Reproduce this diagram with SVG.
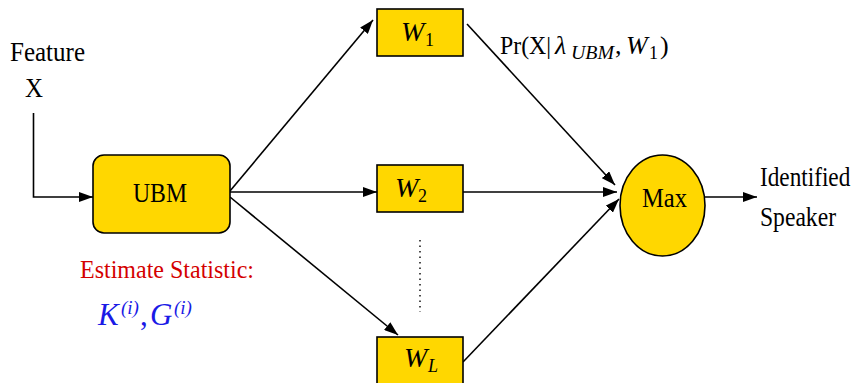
<svg xmlns="http://www.w3.org/2000/svg" width="857" height="383" viewBox="0 0 857 383">
<defs>
<marker id="arr" markerUnits="userSpaceOnUse" markerWidth="14" markerHeight="10" refX="14" refY="5" orient="auto">
<path d="M0,0 L14,5 L0,10 Z" fill="#000"/>
</marker>
<style>
.box{fill:#FFD700;stroke:#000;stroke-width:1.6}
.t{font-family:"Liberation Serif","DejaVu Serif",serif;font-size:28px;fill:#000}
.it{font-style:italic}
.sub{font-size:18px}
.edge{fill:none;stroke:#000;stroke-width:1.6;marker-end:url(#arr)}
</style>
</defs>
<rect width="857" height="383" fill="#fff"/>
<g id="connectors">
<path class="edge" d="M33.5,113 V197 H93"/>
<path class="edge" d="M230,191 L373,20"/>
<path class="edge" d="M230,192 H377"/>
<path class="edge" d="M230,197 L398,335"/>
<path class="edge" d="M467,24 L615,185"/>
<path class="edge" d="M463,192 H617"/>
<path class="edge" d="M463,362 L619,199"/>
<path class="edge" d="M705,197 H757"/>
<path d="M420,240 V312" stroke="#000" stroke-width="1.4" stroke-dasharray="1.5,4" fill="none"/>
</g>
<g id="feature">
<text class="t" x="10" y="61" textLength="75" lengthAdjust="spacingAndGlyphs">Feature</text>
<text class="t" x="25" y="97" textLength="18" lengthAdjust="spacingAndGlyphs">X</text>
</g>
<g id="ubm">
<rect class="box" x="93" y="155" width="137" height="78" rx="11"/>
<text class="t" x="133" y="202" textLength="54" lengthAdjust="spacingAndGlyphs">UBM</text>
</g>
<g id="w1">
<rect class="box" x="377" y="9" width="86" height="47"/>
<text class="t" y="41"><tspan class="it" x="401">W</tspan><tspan class="sub" x="425" dy="5">1</tspan></text>
</g>
<g id="w2">
<rect class="box" x="377" y="165" width="86" height="47"/>
<text class="t" y="197"><tspan class="it" x="395">W</tspan><tspan class="sub" x="418" dy="5">2</tspan></text>
</g>
<g id="wl">
<rect class="box" x="377" y="337" width="86" height="47"/>
<text class="t" y="367"><tspan class="it" x="404">W</tspan><tspan class="sub it" x="428" dy="5">L</tspan></text>
</g>
<g id="max">
<ellipse class="box" cx="662.5" cy="205.5" rx="42.5" ry="50.5"/>
<text class="t" x="642" y="207" textLength="45" lengthAdjust="spacingAndGlyphs">Max</text>
</g>
<g id="output">
<text class="t" transform="translate(760,186) scale(0.83,1)" x="0" y="0">Identified</text>
<text class="t" x="760" y="226" textLength="76" lengthAdjust="spacingAndGlyphs">Speaker</text>
</g>
<g id="prob">
<text class="t" y="54" style="font-size:26px"><tspan x="500" textLength="51" lengthAdjust="spacingAndGlyphs">Pr(X|</tspan><tspan class="it" x="555">λ</tspan><tspan class="sub it" x="571" dy="5" style="font-size:19px" textLength="43" lengthAdjust="spacingAndGlyphs">UBM</tspan><tspan x="615" dy="-5">,</tspan><tspan class="it" x="626">W</tspan><tspan class="sub" x="649" dy="5">1</tspan><tspan x="660" dy="-5">)</tspan></text>
</g>
<g id="estimate">
<text x="80" y="278" textLength="174" lengthAdjust="spacingAndGlyphs" style="font-family:'Liberation Serif','DejaVu Serif',serif;font-size:25px;fill:#d40000">Estimate Statistic:</text>
<text class="t" y="325" style="fill:#1a1ae6;font-size:31px"><tspan class="it" x="98">K</tspan><tspan class="sub it" x="121" dy="-11" style="font-size:19px">(i)</tspan><tspan x="140" dy="11">,</tspan><tspan class="it" x="150">G</tspan><tspan class="sub it" x="174" dy="-11" style="font-size:19px">(i)</tspan></text>
</g>
</svg>
